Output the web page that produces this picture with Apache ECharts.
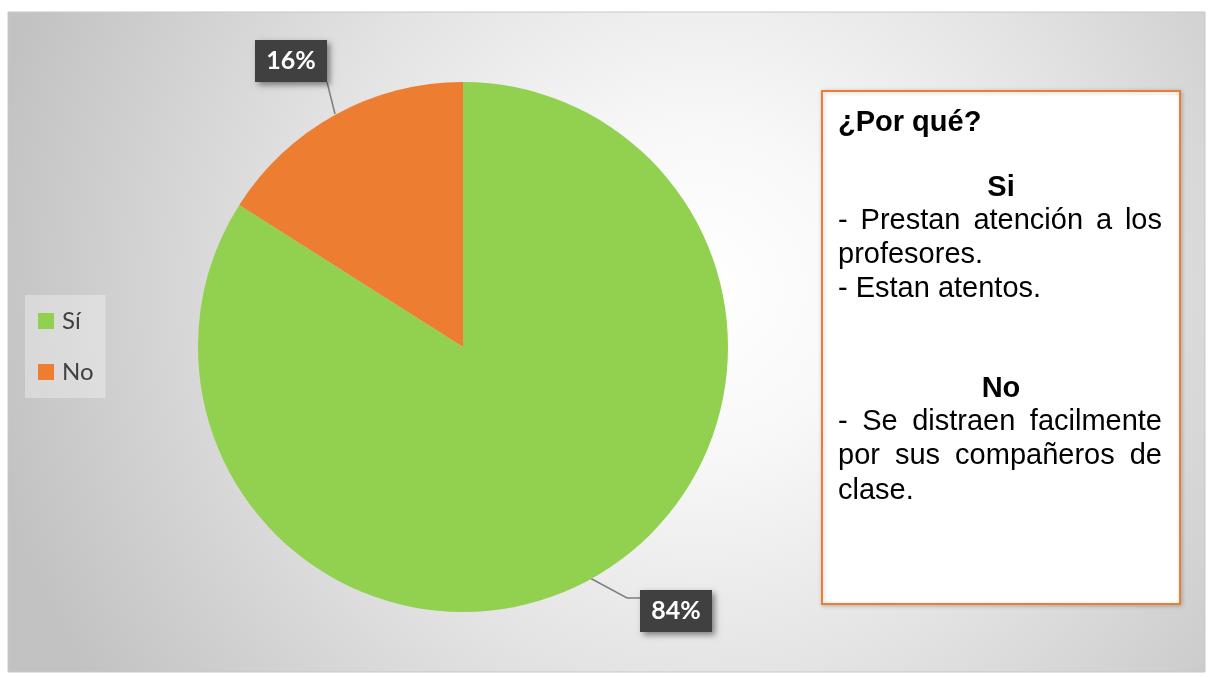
<!DOCTYPE html>
<html>
<head>
<meta charset="utf-8">
<script src="https://cdn.jsdelivr.net/npm/echarts@6/dist/echarts.min.js"></script>
<style>
html,body{margin:0;padding:0;background:#fff;}
#c{width:1211px;height:677px;}
</style>
</head>
<body>
<div id="c"></div>
<script>
var categories = ['Sí', 'No'];
var values = [84, 16];
var colors = ['#92d050', '#ed7d31'];
var boxTitle = '¿Por qué?';
var boxSections = [
  { head: 'Si', lines: [['- Prestan atención a los', true], ['profesores.', false], ['- Estan atentos.', false]] },
  { head: 'No', lines: [['- Se distraen facilmente', true], ['por sus compañeros de', true], ['clase.', false]] }
];

var chart = echarts.init(document.getElementById('c'));

var FONT = "29px 'Liberation Sans', Arial, sans-serif";
var BFONT = "bold 29px 'Liberation Sans', Arial, sans-serif";
var cv = document.createElement('canvas').getContext('2d');
function measure(t, f){ cv.font = f; return cv.measureText(t).width; }

var textLeft = 838, textRight = 1162, textCenter = 1001;
var graphics = [];
graphics.push({
  type: 'rect', z: -10, silent: true,
  shape: { x: 8, y: 12, width: 1197, height: 660 },
  style: {
    fill: new echarts.graphic.RadialGradient(0.58, 0.42, 1.1, [
      { offset: 0, color: '#ffffff' },
      { offset: 0.22, color: '#f8f8f8' },
      { offset: 0.55, color: '#e3e3e3' },
      { offset: 0.85, color: '#cdcdcd' },
      { offset: 1, color: '#c2c2c2' }
    ]),
    stroke: '#c8c8c8', lineWidth: 1
  }
});
graphics.push({
  type: 'rect', z: 1, silent: true,
  shape: { x: 822, y: 91, width: 358, height: 513 },
  style: { fill: '#ffffff', stroke: '#ed7d31', lineWidth: 2, shadowBlur: 4, shadowColor: 'rgba(0,0,0,0.2)', shadowOffsetX: 1, shadowOffsetY: 1 }
});
function addText(t, x, y, font, align){
  graphics.push({ type: 'text', z: 2, silent: true,
    style: { text: t, x: x, y: y, font: font, fill: '#000000', textAlign: align || 'left', textVerticalAlign: 'middle' } });
}
function addJustified(t, y){
  var words = t.split(' ');
  var total = 0;
  words.forEach(function(w){ total += measure(w, FONT); });
  var gap = (textRight - textLeft - total) / (words.length - 1);
  var x = textLeft;
  words.forEach(function(w){ addText(w, x, y, FONT); x += measure(w, FONT) + gap; });
}
addText(boxTitle, textLeft, 123, BFONT);
var ys = [[188, [221, 255, 289]], [389, [422, 456, 491]]];
boxSections.forEach(function(s, i){
  addText(s.head, textCenter, ys[i][0], BFONT, 'center');
  s.lines.forEach(function(l, j){
    if (l[1]) addJustified(l[0], ys[i][1][j]);
    else addText(l[0], textLeft, ys[i][1][j], FONT);
  });
});

var labelPos = {
  0: { x: 676, y: 611, pts: [[590, 578], [627, 598], [640, 598]] },
  1: { x: 291, y: 61, pts: [[335, 114], [327, 82], [327, 82]] }
};

chart.setOption({
  backgroundColor: '#ffffff',
  animation: false,
  color: colors,
  graphic: graphics,
  legend: {
    orient: 'vertical',
    left: 25, top: 295,
    padding: [13, 12, 13, 13],
    backgroundColor: 'rgba(255,255,255,0.32)',
    itemWidth: 16, itemHeight: 16, itemGap: 25,
    icon: 'rect',
    data: categories,
    textStyle: { fontFamily: 'Lato, "Open Sans", sans-serif', fontSize: 24, color: '#404040', lineHeight: 26, padding: [0, 0, 0, 3] }
  },
  series: [{
    type: 'pie',
    center: [463, 347],
    radius: 265,
    startAngle: 90,
    clockwise: true,
    z: 3,
    data: categories.map(function(c, i){ return { name: c, value: values[i] }; }),
    itemStyle: { borderWidth: 0 },
    label: {
      show: true,
      position: 'outside',
      formatter: function(p){ return p.value + '%'; },
      fontFamily: 'Lato, "Open Sans", sans-serif',
      fontWeight: 'bold',
      fontSize: 25,
      lineHeight: 26,
      color: '#ffffff',
      backgroundColor: '#404040',
      padding: [8, 10],
      width: 52,
      align: 'center',
      shadowBlur: 6,
      shadowColor: 'rgba(0,0,0,0.45)',
      shadowOffsetX: 3,
      shadowOffsetY: 3
    },
    labelLine: { show: true, lineStyle: { color: '#7f7f7f', width: 1.5 } },
    labelLayout: function(params){
      var p = labelPos[params.dataIndex];
      return { x: p.x, y: p.y, align: 'center', verticalAlign: 'middle', labelLinePoints: p.pts };
    },
    emphasis: { disabled: true }
  }]
});
</script>
</body>
</html>
